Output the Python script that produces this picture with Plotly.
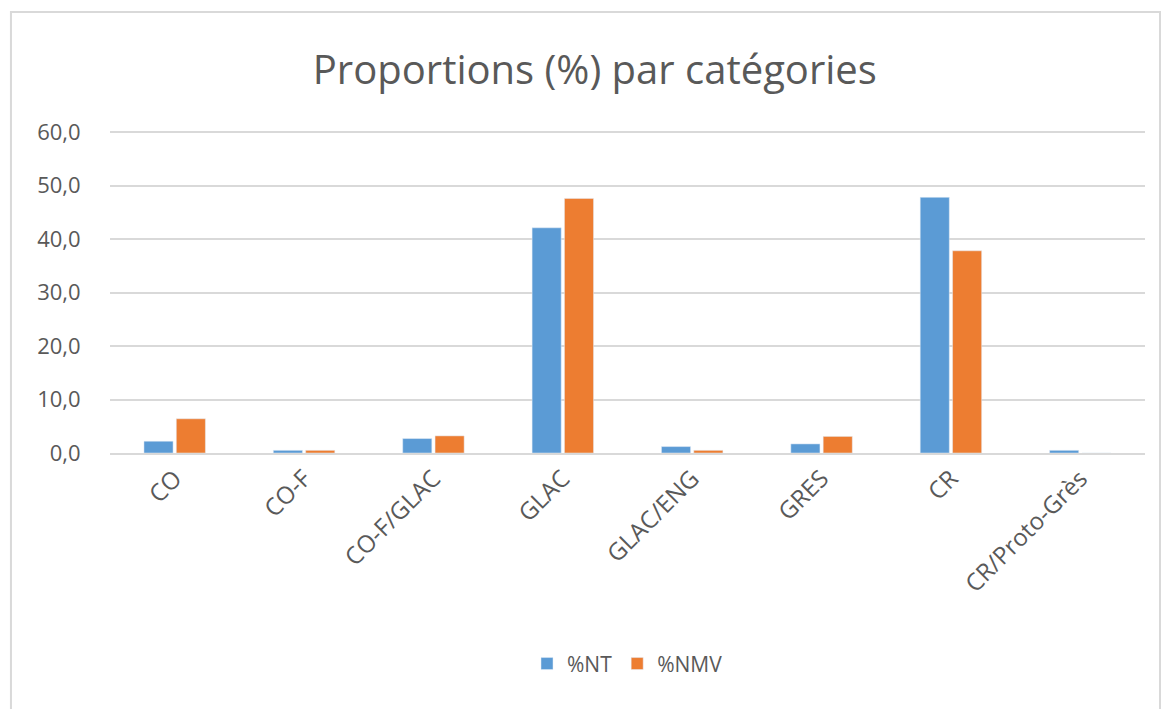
import plotly.graph_objects as go

# Données
categories = ["CO", "CO-F", "CO-F/GLAC", "GLAC", "GLAC/ENG", "GRES", "CR", "CR/Proto-Grès"]
pct_nt = [2.2, 0.5, 2.7, 42.1, 1.2, 1.7, 47.8, 0.5]
pct_nmv = [6.4, 0.5, 3.2, 47.6, 0.5, 3.1, 37.8, 0.0]

gris = '#595959'
police = 'Open Sans, sans-serif'

fig = go.Figure()

fig.add_trace(go.Bar(x=categories, y=pct_nt, name='%NT', marker_color='#5B9BD5'))
fig.add_trace(go.Bar(x=categories, y=pct_nmv, name='%NMV', marker_color='#ED7D31'))

fig.update_layout(
    width=1169,
    height=709,
    plot_bgcolor='white',
    paper_bgcolor='white',
    separators=', ',
    barmode='group',
    bargap=0.5,
    bargroupgap=0.1,
    # la page ajoute ~8 px de marge autour du graphique
    margin=dict(l=102, r=32, t=123, b=264),
    font=dict(family=police, color=gris, size=20),
    title=dict(
        text='Proportions (%) par catégories',
        x=0.502, xanchor='center', y=0.913, yanchor='middle',
        font=dict(size=40, color=gris, family=police),
    ),
    showlegend=True,
    legend=dict(orientation='h', x=0.5, xanchor='center', y=-0.655, yanchor='middle',
                font=dict(size=21, color=gris)),
    xaxis=dict(
        tickangle=-45,
        tickfont=dict(size=24, color=gris),
        showline=True,
        linecolor='#D9D9D9',
        linewidth=2,
        ticks='',
        automargin=False,
    ),
    yaxis=dict(
        range=[0, 60.2],
        tickvals=[0, 10, 20, 30, 40, 50, 60],
        tickformat='.1f',
        tickfont=dict(size=22, color=gris),
        gridcolor='#D9D9D9',
        gridwidth=1.5,
        zeroline=False,
        # tiret blanc pour écarter les étiquettes de l'axe
        ticks='outside',
        ticklen=24,
        tickcolor='white',
        automargin=False,
    ),
)

# Cadre du graphique
fig.add_shape(type='rect', xref='paper', yref='paper',
              x0=-0.0957, x1=1.0145, y0=-0.85, y1=1.3696,
              line=dict(color='#D9D9D9', width=2), layer='below')

fig.write_html("out.html")
